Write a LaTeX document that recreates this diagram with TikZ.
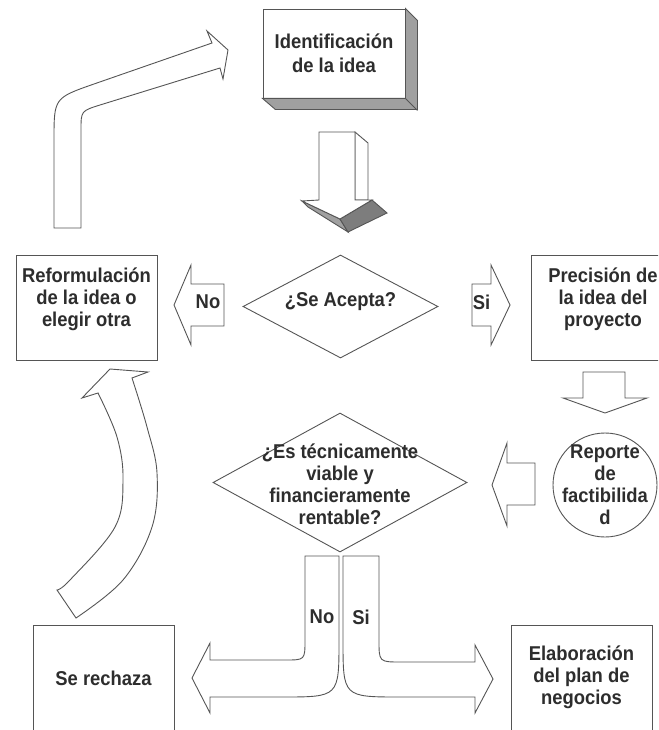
\documentclass[tikz,border=0pt]{standalone}
\usepackage{fontspec}
\setmainfont{Liberation Sans}[FakeStretch=0.92]
\usetikzlibrary{shapes.geometric, positioning}
\definecolor{linegray}{RGB}{85, 85, 85}
\definecolor{textgray}{RGB}{45, 45, 45}
\definecolor{facegray}{RGB}{160, 160, 160}
\definecolor{darkface}{RGB}{125, 125, 125}
\newcommand{\lblfont}{\fontsize{20}{22}\selectfont\bfseries}

\begin{document}
\begin{tikzpicture}[x=1pt, y=-1pt,
    box/.style={draw=linegray, line width=0.9pt, fill=white, align=center, font=\lblfont, text=textgray, inner sep=0pt},
    decision/.style={diamond, draw=linegray, line width=0.9pt, fill=white, inner sep=0pt},
    lbl/.style={align=center, font=\lblfont, text=textgray, inner sep=0pt},
    blockarrow/.style={draw=linegray, line width=0.9pt, fill=white, line join=miter}]
    \useasboundingbox (0,0) rectangle (658,730);
    \clip (0,0) rectangle (658,730);

    % first step, with its 3D edge
    \node[box, minimum width=142, minimum height=89] (idea) at (334,53.5) {Identificación\\[2pt]de la idea};
    \fill[facegray, draw=linegray, line width=0.9pt] (idea.north east) -- ++(12,12) -- ++(0,89) -- ++(-142,0) -- (idea.south west) -- (idea.south east) -- cycle;
    \draw[linegray, line width=0.9pt] (idea.south east) -- ++(12,12);

    % 3D arrow down
    \draw[blockarrow] (355,132) -- (368,143) -- (368,200) -- (355,200) -- cycle;
    \draw[blockarrow, fill=facegray] (302,201) -- (340,219) -- (348,232) -- (308,207) -- cycle;
    \draw[blockarrow, fill=darkface] (340,219) -- (372,200) -- (387,213) -- (348,232) -- cycle;
    \draw[blockarrow] (319,132) -- (355,132) -- (355,200) -- (372,200) -- (340,219) -- (302,201) -- (319,200) -- cycle;

    % middle row
    \node[box, minimum width=141, minimum height=105] (reform) at (86.5,307.5) {};
    \node[lbl, yshift=8pt] (reformtxt) at (reform) {Reformulación\\de la idea o\\elegir otra};
    \node[decision, minimum width=195, minimum height=103] (acepta) at (340.5,306.5) {};
    \node[lbl, yshift=5pt] (aceptatxt) at (acepta) {¿Se Acepta?};
    \node[box, minimum width=144, minimum height=105] (precision) at (603,307.5) {};
    \node[lbl, yshift=8pt] (precisiontxt) at (precision) {Precisión de\\la idea del\\proyecto};

    \draw[blockarrow] (224,284) -- (191,284) -- (191,265) -- (174,305) -- (191,345) -- (191,326) -- (224,326) -- cycle;
    \node[lbl] (no1) at (208,302) {No};
    \draw[blockarrow] (472,284) -- (491,284) -- (491,265) -- (510,305) -- (491,345) -- (491,326) -- (472,326) -- cycle;
    \node[lbl] (si1) at (481.5,302) {Si};

    % back to the first step
    \draw[blockarrow] (54,228) -- (54,140) .. controls (54,98) .. (94,84) -- (212,43) -- (207,31) -- (228,50) -- (223,79) -- (220,68) -- (100,105) .. controls (81,111) .. (81,130) -- (81,228) -- cycle;

    % report and second decision
    \draw[blockarrow] (583,372) -- (625,372) -- (625,398) -- (647,398) -- (605,413) -- (563,398) -- (583,398) -- cycle;
    \node[circle, draw=linegray, line width=0.9pt, minimum size=104] (reporte) at (605,485) {};
    \node[lbl] (reportetxt) at (reporte) {Reporte\\de\\factibilida\\d};
    \draw[blockarrow] (535,463) -- (507,463) -- (507,443) -- (492,485) -- (507,526) -- (507,505) -- (535,505) -- cycle;
    \node[decision, minimum width=254, minimum height=139] (viable) at (340,482.5) {};
    \node[lbl, yshift=-2pt] (viabletxt) at (viable) {¿Es técnicamente\\viable y\\financieramente\\rentable?};

    % outcomes
    \node[box, minimum width=141, minimum height=106] (rechaza) at (103.5,678) {Se rechaza};
    \node[box, minimum width=141, minimum height=110] (plan) at (581.5,680) {};
    \node[lbl] (plantxt) at (581.5,677) {Elaboración\\del plan de\\negocios};

    \draw[blockarrow] (305,556) -- (339,556) -- (339,640) .. controls (339,697) .. (282,697) -- (210,697) -- (210,713) -- (192,678) -- (210,643) -- (210,660) -- (285,660) .. controls (305,660) .. (305,640) -- cycle;
    \node[lbl] (no2) at (322,617) {No};
    \draw[blockarrow] (343,556) -- (379,556) -- (379,640) .. controls (379,662) .. (401,662) -- (475,662) -- (475,645) -- (493,679) -- (475,713) -- (475,697) -- (400,697) .. controls (343,697) .. (343,640) -- cycle;
    \node[lbl] (si2) at (361,617) {Si};

    % curved arrow from the rejection back up
    \draw[blockarrow] (57,590) -- (76,618) -- plot[smooth, tension=0.6] coordinates {(76,618) (123,580) (152,527) (157,473) (147,427) (132,378)} -- (148,372) -- (110,369) -- (82,398) -- plot[smooth, tension=0.6] coordinates {(98,393) (117,437) (123,480) (115,527) (70,580) (57,590)} -- cycle;
\end{tikzpicture}
\end{document}
